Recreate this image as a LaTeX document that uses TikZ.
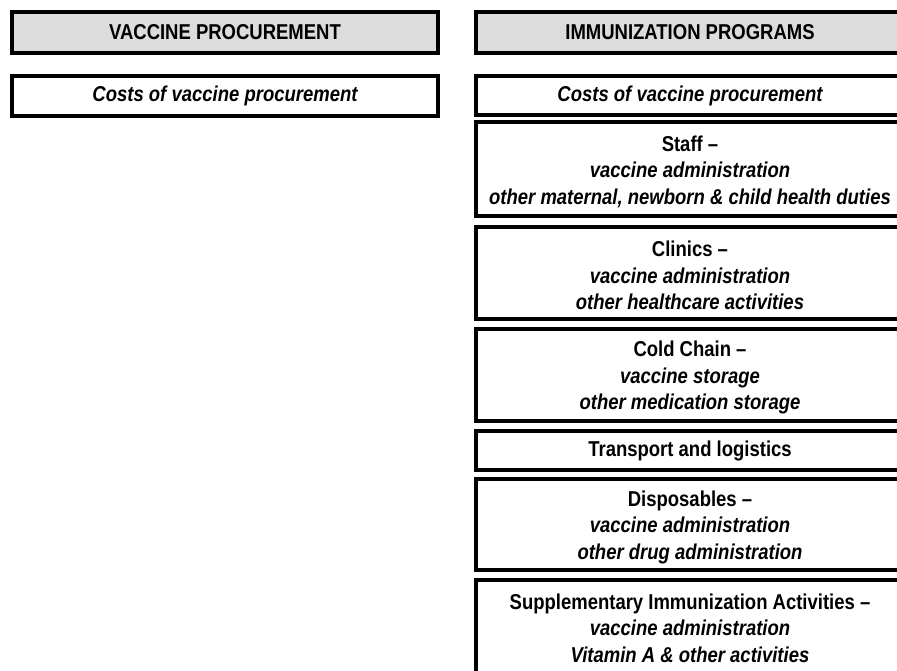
\documentclass[tikz,border=0pt]{standalone}
\usepackage{fontspec}
\setmainfont{Liberation Sans}[FakeStretch=0.86]
\definecolor{headgray}{HTML}{DCDCDC}
\newcommand{\firststrut}{\rule{0pt}{21pt}}
\begin{document}
\begin{tikzpicture}[x=1pt,y=1pt,
  box/.style={draw=black, line width=4pt, rectangle, inner sep=0pt, outer sep=0pt,
    align=center, font=\fontsize{21.5}{26.5}\selectfont\bfseries, text=black},
  headbox/.style={box, fill=headgray}]
\useasboundingbox (0,0) rectangle (897,-670);
\clip (0,0) rectangle (897,-670);
% left column
\node[headbox, minimum width=426pt, minimum height=41pt] (vp) at (225,-32.5) {VACCINE PROCUREMENT};
\node[box, minimum width=426pt, minimum height=40pt] (vpc) at (225,-96) {\itshape Costs of vaccine procurement};
% right column
\node[headbox, minimum width=428pt, minimum height=41pt] (ip) at (690,-32.5) {IMMUNIZATION PROGRAMS};
\node[box, minimum width=428pt, minimum height=39pt] (ipc) at (690,-95.5) {\itshape Costs of vaccine procurement};
\node[box, minimum width=428pt, minimum height=94pt] (staff) at (690,-169) {\firststrut Staff --\\ \itshape vaccine administration\\ \itshape other maternal, newborn \& child health duties};
\node[box, minimum width=428pt, minimum height=92pt] (clin) at (690,-273) {\firststrut Clinics --\\ \itshape vaccine administration\\ \itshape other healthcare activities};
\node[box, minimum width=428pt, minimum height=92pt] (cold) at (690,-375) {\firststrut Cold Chain --\\ \itshape vaccine storage\\ \itshape other medication storage};
\node[box, minimum width=428pt, minimum height=39pt] (trans) at (690,-450.5) {Transport and logistics};
\node[box, minimum width=428pt, minimum height=91pt] (disp) at (690,-524.5) {\firststrut Disposables --\\ \itshape vaccine administration\\ \itshape other drug administration};
\node[box, minimum width=428pt, minimum height=96pt] (sia) at (690,-628) {Supplementary Immunization Activities --\\ \itshape vaccine administration\\ \itshape Vitamin A \& other activities};
\end{tikzpicture}
\end{document}
